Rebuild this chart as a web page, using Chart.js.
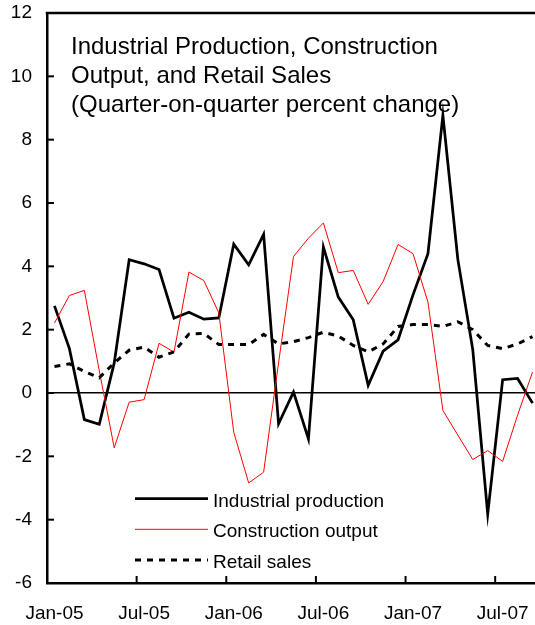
<!DOCTYPE html>
<html><head><meta charset="utf-8">
<script src="https://cdn.jsdelivr.net/npm/chart.js@4.4.0/dist/chart.umd.min.js"></script>
<style>html,body{margin:0;padding:0;overflow:hidden;background:#fff;width:535px;height:625px}canvas{display:block}</style>
</head><body>
<canvas id="c" width="545" height="625" style="width:545px;height:625px"></canvas>
<script>
const categories = ['Jan-05','Feb-05','Mar-05','Apr-05','May-05','Jun-05','Jul-05','Aug-05','Sep-05','Oct-05','Nov-05','Dec-05',
  'Jan-06','Feb-06','Mar-06','Apr-06','May-06','Jun-06','Jul-06','Aug-06','Sep-06','Oct-06','Nov-06','Dec-06',
  'Jan-07','Feb-07','Mar-07','Apr-07','May-07','Jun-07','Jul-07','Aug-07','Sep-07'];
const industrialProduction = [2.75, 1.40, -0.84, -0.99, 0.95, 4.21, 4.08, 3.90, 2.36, 2.55, 2.33, 2.37,
  4.70, 4.05, 5.01, -0.97, 0.03, -1.45, 4.61, 3.03, 2.31, 0.24, 1.32, 1.68,
  3.10, 4.40, 8.77, 4.22, 1.37, -3.82, 0.42, 0.46, -0.32];
const constructionOutput = [2.21, 3.08, 3.24, 0.70, -1.73, -0.29, -0.21, 1.57, 1.29, 3.82, 3.55, 2.53,
  -1.24, -2.84, -2.50, 0.95, 4.31, 4.89, 5.37, 3.80, 3.87, 2.80, 3.52, 4.69,
  4.40, 2.87, -0.55, -1.33, -2.10, -1.82, -2.16, -0.70, 0.66];
const retailSales = [0.84, 0.92, 0.68, 0.48, 0.95, 1.35, 1.45, 1.13, 1.30, 1.86, 1.88, 1.53,
  1.53, 1.53, 1.85, 1.55, 1.62, 1.75, 1.92, 1.80, 1.50, 1.30, 1.55, 2.10,
  2.16, 2.16, 2.10, 2.25, 2.00, 1.50, 1.40, 1.55, 1.78];
const xTickLabels = ['Jan-05','Jul-05','Jan-06','Jul-06','Jan-07','Jul-07'];
const yMin = -6, yMax = 12, yStep = 2;
const seriesNames = ['Industrial production','Construction output','Retail sales'];
const titleLines = ['Industrial Production, Construction','Output, and Retail Sales','(Quarter-on-quarter percent change)'];

const FONT = '"Liberation Sans", Arial, sans-serif';
Chart.defaults.font.family = FONT;
Chart.defaults.font.size = 19;
Chart.defaults.color = '#000';

const decor = {
  id: 'decor',
  afterDraw(chart) {
    const ctx = chart.ctx, a = chart.chartArea;
    const xs = chart.scales.x, ys = chart.scales.y;
    ctx.save();
    ctx.strokeStyle = '#000';
    // frame top / right
    ctx.lineWidth = 2.5;
    ctx.beginPath(); ctx.moveTo(a.left - 1.25, a.top); ctx.lineTo(a.right, a.top); ctx.lineTo(a.right, a.bottom); ctx.stroke();
    // inward y ticks
    ctx.lineWidth = 2;
    ys.ticks.forEach(t => {
      const py = ys.getPixelForValue(t.value);
      ctx.beginPath(); ctx.moveTo(a.left, py); ctx.lineTo(a.left + 7, py); ctx.stroke();
    });
    // inward x ticks at category boundaries
    const half = (xs.getPixelForValue(1) - xs.getPixelForValue(0)) / 2;
    categories.forEach((c, i) => {
      if (xTickLabels.includes(c)) {
        const px = xs.getPixelForValue(i) - half;
        ctx.beginPath(); ctx.moveTo(px, a.bottom); ctx.lineTo(px, a.bottom - 7); ctx.stroke();
      }
    });
    // title inside plot
    ctx.fillStyle = '#000';
    ctx.font = '24px ' + FONT;
    ctx.textAlign = 'left';
    ctx.textBaseline = 'alphabetic';
    const tb = [54, 83, 112];
    titleLines.forEach((s, i) => ctx.fillText(s, 71, tb[i]));
    // legend
    ctx.font = '19px ' + FONT;
    const ly = [498.5, 529.3, 560], lb = [506.5, 537, 567.5];
    chart.data.datasets.forEach((ds, i) => {
      ctx.save();
      ctx.strokeStyle = ds.borderColor;
      ctx.lineWidth = ds.borderWidth;
      ctx.setLineDash(ds.borderDash || []);
      ctx.beginPath(); ctx.moveTo(135, ly[i]); ctx.lineTo(208, ly[i]); ctx.stroke();
      ctx.restore();
      ctx.fillText(ds.label, 213, lb[i]);
    });
    ctx.restore();
  }
};

new Chart(document.getElementById('c'), {
  type: 'line',
  data: {
    labels: categories,
    datasets: [
      { label: seriesNames[0], data: industrialProduction, borderColor: '#000000', borderWidth: 2.75, pointRadius: 0, tension: 0, order: 2, borderJoinStyle: 'miter' },
      { label: seriesNames[1], data: constructionOutput, borderColor: '#ff0000', borderWidth: 1, pointRadius: 0, tension: 0, order: 1 },
      { label: seriesNames[2], data: retailSales, borderColor: '#000000', borderWidth: 3, borderDash: [6, 6], pointRadius: 0, tension: 0, order: 0 }
    ]
  },
  options: {
    responsive: false,
    animation: false,
    devicePixelRatio: 1,
    layout: { padding: { top: 13, right: 5, left: 0, bottom: 0 } },
    plugins: { legend: { display: false }, tooltip: { enabled: false }, title: { display: false } },
    scales: {
      x: {
        type: 'category',
        offset: true,
        grid: { display: false, drawTicks: false, offset: true },
        border: { display: true, color: '#000', width: 2.5 },
        ticks: {
          autoSkip: false, maxRotation: 0, minRotation: 0, padding: 19,
          callback: (v, i) => xTickLabels.includes(categories[i]) ? categories[i] : ''
        },
        afterFit: s => { s.height = 42; s.paddingLeft = 0; s.paddingRight = 0; }
      },
      y: {
        min: yMin, max: yMax,
        ticks: { stepSize: yStep, padding: 15, callback: v => String(v) },
        grid: {
          drawTicks: false,
          color: c => c.tick && c.tick.value === 0 ? '#000' : 'rgba(0,0,0,0)',
          lineWidth: c => c.tick && c.tick.value === 0 ? 1.5 : 0
        },
        border: { display: true, color: '#000', width: 2.5 },
        afterFit: s => { s.width = 47; s.paddingTop = 0; s.paddingBottom = 0; }
      }
    }
  },
  plugins: [decor]
});
</script>
</body></html>
